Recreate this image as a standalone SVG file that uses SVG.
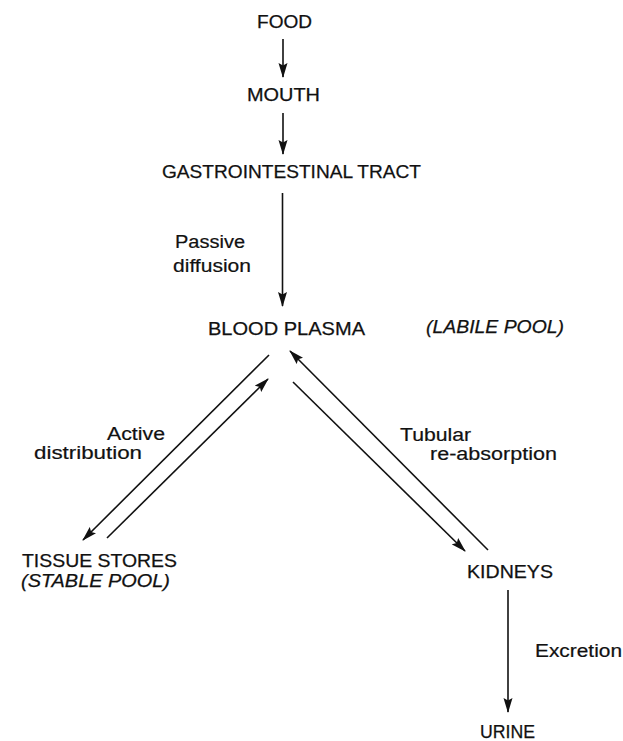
<svg xmlns="http://www.w3.org/2000/svg" width="623" height="741" viewBox="0 0 623 741">
<defs>
<style>
.n{font-family:"Liberation Sans",Arial,Helvetica,sans-serif;font-size:18.5px;fill:#111;stroke:#111;stroke-width:0.25}
.i{font-style:italic}
.l{font-family:"Liberation Sans",Arial,Helvetica,sans-serif;font-size:17.5px;fill:#111;stroke:#111;stroke-width:0.2}
.c{stroke:#111;stroke-width:1.6;fill:none;marker-end:url(#ah)}
</style>
<marker id="ah" markerUnits="userSpaceOnUse" markerWidth="16" markerHeight="10" refX="14" refY="5" orient="auto" viewBox="0 0 16 10">
<path d="M0,0.5 L15,5 L0,9.5 L2.5,5 z" fill="#111"/>
</marker>
</defs>
<rect width="623" height="741" fill="#fff"/>
<g id="connectors">
<line class="c" x1="283" y1="39" x2="283" y2="77"/>
<line class="c" x1="283" y1="113" x2="283" y2="154"/>
<line class="c" x1="282.5" y1="193" x2="282.5" y2="306"/>
<line class="c" x1="269" y1="355" x2="83" y2="540"/>
<line class="c" x1="107" y1="538" x2="268" y2="379"/>
<line class="c" x1="488" y1="550" x2="290" y2="351"/>
<line class="c" x1="293" y1="382" x2="465" y2="551"/>
<line class="c" x1="508" y1="590" x2="508" y2="712"/>
</g>
<g id="food"><text class="n" x="257" y="28" textLength="55" lengthAdjust="spacingAndGlyphs">FOOD</text></g>
<g id="mouth"><text class="n" x="247" y="101" textLength="73" lengthAdjust="spacingAndGlyphs">MOUTH</text></g>
<g id="gi-tract"><text class="n" x="162" y="178" textLength="259" lengthAdjust="spacingAndGlyphs">GASTROINTESTINAL TRACT</text></g>
<g id="blood-plasma"><text class="n" x="208" y="335" textLength="157" lengthAdjust="spacingAndGlyphs">BLOOD PLASMA</text></g>
<g id="labile-pool"><text class="n i" x="426" y="333" textLength="138" lengthAdjust="spacingAndGlyphs">(LABILE POOL)</text></g>
<g id="tissue-stores"><text class="n" x="22" y="567" textLength="155" lengthAdjust="spacingAndGlyphs">TISSUE STORES</text><text class="n i" x="21" y="587" textLength="149" lengthAdjust="spacingAndGlyphs">(STABLE POOL)</text></g>
<g id="kidneys"><text class="n" x="467" y="578" textLength="86" lengthAdjust="spacingAndGlyphs">KIDNEYS</text></g>
<g id="urine"><text class="n" x="480" y="738" textLength="55" lengthAdjust="spacingAndGlyphs">URINE</text></g>
<g id="labels">
<text class="l" x="175" y="248" textLength="70" lengthAdjust="spacingAndGlyphs">Passive</text>
<text class="l" x="173" y="272" textLength="78" lengthAdjust="spacingAndGlyphs">diffusion</text>
<text class="l" x="107" y="440" textLength="58" lengthAdjust="spacingAndGlyphs">Active</text>
<text class="l" x="34" y="459" textLength="108" lengthAdjust="spacingAndGlyphs">distribution</text>
<text class="l" x="400" y="441" textLength="71" lengthAdjust="spacingAndGlyphs">Tubular</text>
<text class="l" x="430" y="460" textLength="127" lengthAdjust="spacingAndGlyphs">re-absorption</text>
<text class="l" x="535" y="657" textLength="87" lengthAdjust="spacingAndGlyphs">Excretion</text>
</g>
</svg>
